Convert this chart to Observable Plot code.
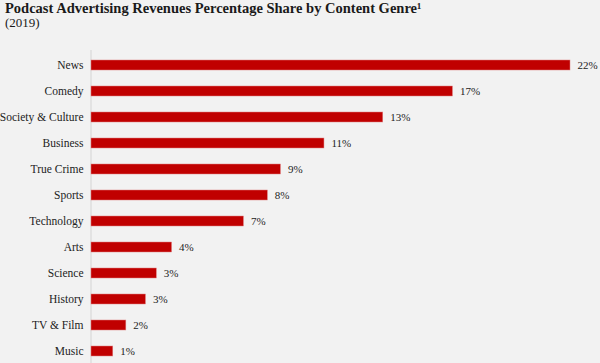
<!DOCTYPE html>
<html>
<head>
<meta charset="utf-8">
<script src="https://cdn.jsdelivr.net/npm/d3@7"></script>
<script src="https://cdn.jsdelivr.net/npm/@observablehq/plot@0.6"></script>
<style>
  html, body { margin: 0; padding: 0; background: #f2f2f2; }
  body { width: 600px; height: 363px; overflow: hidden; font-family: "Liberation Serif", "DejaVu Serif", serif; }
  #head { height: 36px; padding: 0 0 0 5px; box-sizing: border-box; }
  #title { font-weight: bold; font-size: 14.5px; color: #1a1a1a; line-height: 15px; padding-top: 1px; }
  #sub { font-size: 13px; color: #1a1a1a; line-height: 14px; }
  svg { display: block; }
</style>
</head>
<body>
<div id="head">
  <div id="title">Podcast Advertising Revenues Percentage Share by Content Genre¹</div>
  <div id="sub">(2019)</div>
</div>
<div id="chart"></div>
<script>
const genres = ["News", "Comedy", "Society & Culture", "Business", "True Crime", "Sports", "Technology", "Arts", "Science", "History", "TV & Film", "Music"];
const shares = [22.0, 16.6, 13.4, 10.7, 8.7, 8.1, 7.0, 3.7, 3.0, 2.5, 1.6, 1.0];
const labels = ["22%", "17%", "13%", "11%", "9%", "8%", "7%", "4%", "3%", "3%", "2%", "1%"];

const data = genres.map((g, i) => ({genre: g, share: shares[i], label: labels[i]}));

const chart = Plot.plot({
  width: 600,
  height: 327,
  marginLeft: 91,
  marginRight: 30,
  marginTop: 20,
  marginBottom: 3,
  style: {background: "#f2f2f2", fontFamily: "Liberation Serif, DejaVu Serif, serif", fontSize: "11px", color: "#222"},
  x: {domain: [0, 22], axis: null},
  y: {domain: genres, paddingInner: 0.62, paddingOuter: 0.1, label: null},
  marks: [
    Plot.ruleX([0], {stroke: "#d4d4d4", strokeWidth: 1, dx: -0.5, insetTop: -6, insetBottom: -5}),
    Plot.barX(data, {x: "share", y: "genre", fill: "#c00000", stroke: "#e08080", strokeWidth: 0.5}),
    Plot.text(data, {x: "share", y: "genre", text: "label", dx: 7, textAnchor: "start", fill: "#222", fontSize: 11}),
    Plot.axisY({tickSize: 0, tickPadding: 8, fontSize: 11.5, fill: "#222", label: null})
  ]
});
document.getElementById("chart").appendChild(chart);
</script>
</body>
</html>
